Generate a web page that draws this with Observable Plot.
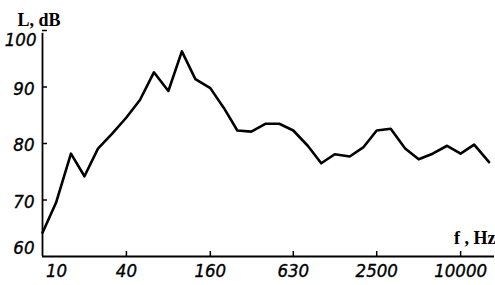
<!DOCTYPE html>
<html><head><meta charset="utf-8">
<script src="https://cdn.jsdelivr.net/npm/d3@7"></script>
<script src="https://cdn.jsdelivr.net/npm/@observablehq/plot@0.6"></script>
<style>body{margin:0;background:#fff}</style>
</head><body><div id="chart"></div>
<script>
const freqs = [10,12.5,16,20,25,31.5,40,50,63,80,100,125,160,200,250,315,400,500,630,800,1000,1250,1600,2000,2500,3150,4000,5000,6300,8000,10000,12500,16000];
const levels = [64.2,69.5,78.2,74.2,79.1,81.7,84.6,87.7,92.6,89.3,96.3,91.4,89.8,86.3,82.3,82.1,83.5,83.5,82.3,79.6,76.5,78.1,77.7,79.3,82.3,82.6,79.1,77.2,78.2,79.6,78.2,79.8,76.7];
const xTickValues = [40,160,630,2500,10000];
const xFirstLabel = [10];
const yMidTicks = [70,80,90];
const yTopTick = [100];
const yBottomTick = [60];
const yTitle = "L, dB";
const xTitle = "f , Hz";

const data = freqs.map((f, i) => ({f, L: levels[i]}));
const W = 495, H = 285, mL = 42, mR = 1, mT = 30, mB = 29;
const labelFont = {fontFamily: "'DejaVu Sans Condensed', 'DejaVu Sans', sans-serif", fontStyle: "italic", fontSize: 18.5, fill: "#000", stroke: "#000", strokeWidth: 0.35};
const titleFont = {fontFamily: "'Liberation Serif', serif", fontWeight: "bold", fontSize: 18, fill: "#000"};

const chart = Plot.plot({
  width: W, height: H,
  marginLeft: mL, marginRight: mR, marginTop: mT, marginBottom: mB,
  x: {type: "log", domain: [10, 17500], axis: null},
  y: {domain: [60, 100], axis: null},
  marks: [
    Plot.ruleX([10], {y1: 60, y2: 99.5, stroke: "#000", strokeWidth: 1.8}),
    Plot.ruleY([60], {stroke: "#000", strokeWidth: 1.8}),
    Plot.tickY([...yMidTicks, ...yTopTick], {y: d => d, stroke: "#000", strokeWidth: 1.5, insetRight: W - mL - mR - 5}),
    Plot.tickX(xTickValues, {x: d => d, stroke: "#000", strokeWidth: 1.5, insetTop: H - mT - mB - 5}),
    Plot.text(yMidTicks, {y: d => d, text: d => String(d), frameAnchor: "left", textAnchor: "end", lineAnchor: "middle", dx: -8, dy: 2, ...labelFont}),
    Plot.text(yTopTick, {y: d => d, text: d => String(d), frameAnchor: "left", textAnchor: "end", lineAnchor: "middle", dx: -6, dy: 10, ...labelFont}),
    Plot.text(yBottomTick, {y: d => d, text: d => String(d), frameAnchor: "left", textAnchor: "end", lineAnchor: "middle", dx: -8, dy: -8, ...labelFont}),
    Plot.text(xTickValues, {x: d => d, text: d => String(d), frameAnchor: "bottom", textAnchor: "middle", lineAnchor: "middle", dy: 15, ...labelFont}),
    Plot.text(xFirstLabel, {x: d => d, text: d => String(d), frameAnchor: "bottom", textAnchor: "middle", lineAnchor: "middle", dx: 14, dy: 15, ...labelFont}),
    Plot.line(data, {x: "f", y: "L", stroke: "#000", strokeWidth: 2.6, strokeLinejoin: "round"}),
    Plot.text([yTitle], {text: d => d, frameAnchor: "top-left", textAnchor: "start", lineAnchor: "bottom", dx: -25, dy: -5, ...titleFont}),
    Plot.text([xTitle], {text: d => d, frameAnchor: "bottom-right", textAnchor: "end", lineAnchor: "bottom", dx: 1, dy: -13, ...titleFont})
  ]
});
document.getElementById("chart").appendChild(chart);
</script>
</body></html>
